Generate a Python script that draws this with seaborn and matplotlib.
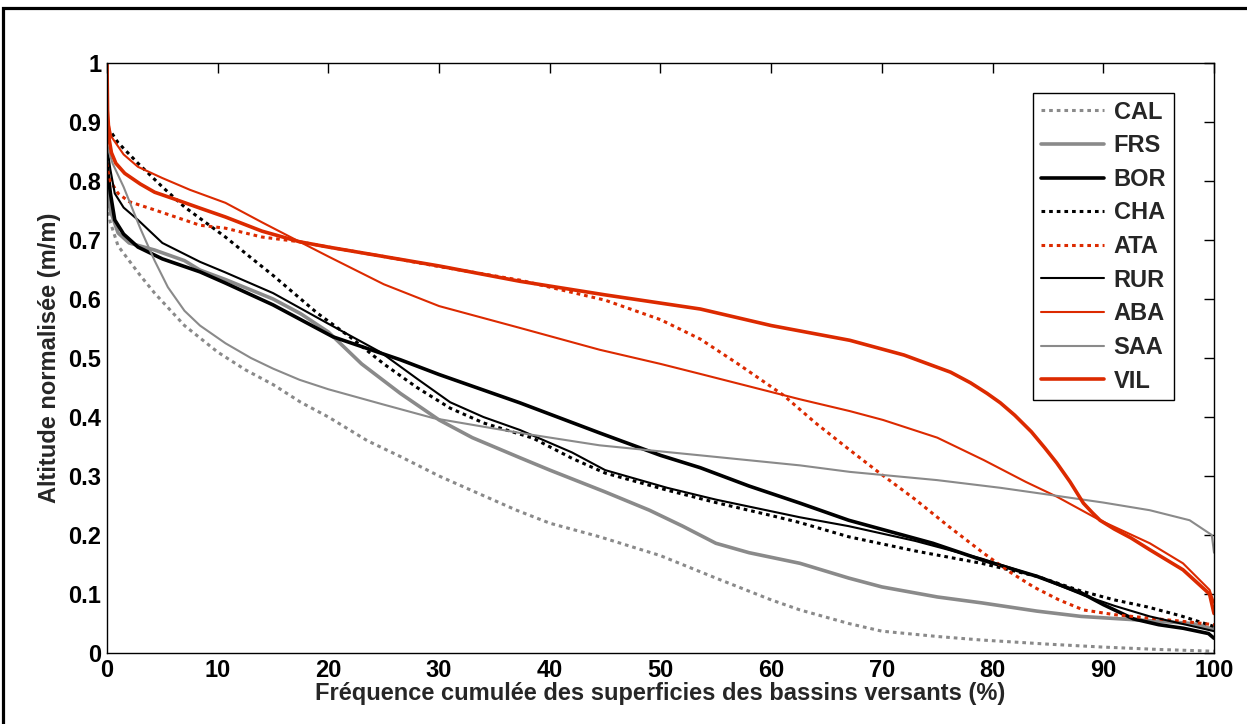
import numpy as np
import pandas as pd
import matplotlib
matplotlib.use("Agg")
import matplotlib.pyplot as plt
import seaborn as sns
from matplotlib.patches import Rectangle

sns.set_theme(style="white")
plt.rcParams['font.family'] = ['Liberation Sans', 'DejaVu Sans']
plt.rcParams['font.weight'] = 'bold'

# ---------------- data ----------------
CAL_x = [0, 0.3, 1, 2, 3, 4.3, 7, 10, 12.5, 15, 17.5, 20, 23.5, 26.5, 30, 33, 37, 40, 44.5, 50, 55, 60, 62.6, 67, 70, 75, 79, 85, 90, 95, 100]
CAL_y = [0.76, 0.73, 0.69, 0.665, 0.64, 0.61, 0.555, 0.51, 0.48, 0.455, 0.425, 0.40, 0.36, 0.333, 0.30, 0.275, 0.242, 0.22, 0.197, 0.165, 0.127, 0.09, 0.073, 0.05, 0.037, 0.028, 0.022, 0.015, 0.01, 0.006, 0.003]

FRS_x = [0, 0.3, 1, 2, 4.3, 7, 8.4, 10.7, 15, 17.5, 20, 23, 26.5, 30, 33, 37.3, 40, 45, 49, 52, 55, 58, 62.6, 67, 70, 75, 79, 84, 88, 94, 98, 100]
FRS_y = [0.80, 0.75, 0.712, 0.695, 0.683, 0.665, 0.649, 0.633, 0.60, 0.575, 0.544, 0.49, 0.44, 0.395, 0.365, 0.331, 0.31, 0.273, 0.242, 0.215, 0.186, 0.170, 0.152, 0.127, 0.112, 0.095, 0.085, 0.071, 0.062, 0.055, 0.05, 0.04]

BOR_x = [0, 0.3, 0.7, 1.5, 2.8, 5, 8.4, 10.7, 15, 20.4, 26.5, 30, 37.3, 44.5, 50, 53.6, 58, 62.6, 67, 74.6, 79, 84, 88, 90, 92.7, 95, 97.2, 99.5, 100]
BOR_y = [0.83, 0.78, 0.734, 0.71, 0.688, 0.668, 0.646, 0.627, 0.59, 0.536, 0.497, 0.472, 0.424, 0.373, 0.335, 0.314, 0.283, 0.254, 0.225, 0.186, 0.158, 0.13, 0.102, 0.082, 0.058, 0.048, 0.042, 0.033, 0.025]

CHA_x = [0, 0.3, 1, 2.8, 5, 7, 10.7, 13, 15, 19, 22, 25, 28, 31, 34, 38.5, 42, 45, 50.6, 55, 60, 62.6, 67, 73, 79, 84, 88, 91, 94, 97, 100]
CHA_y = [0.89, 0.885, 0.865, 0.83, 0.79, 0.756, 0.705, 0.67, 0.64, 0.576, 0.535, 0.49, 0.45, 0.415, 0.39, 0.364, 0.33, 0.305, 0.276, 0.255, 0.233, 0.221, 0.197, 0.173, 0.152, 0.13, 0.105, 0.09, 0.078, 0.063, 0.045]

ATA_x = [0, 0.3, 1, 2, 4.3, 8.4, 10.7, 14, 17.4, 20, 25, 30, 37.3, 40, 45, 50, 53.6, 57, 61.1, 64, 67.1, 69.8, 73.1, 76, 79.2, 81.5, 83.7, 86, 88.2, 91, 94.2, 97, 100]
ATA_y = [0.83, 0.80, 0.779, 0.765, 0.751, 0.725, 0.72, 0.705, 0.697, 0.688, 0.672, 0.655, 0.632, 0.62, 0.598, 0.565, 0.532, 0.49, 0.437, 0.39, 0.344, 0.305, 0.259, 0.215, 0.169, 0.138, 0.112, 0.09, 0.073, 0.065, 0.059, 0.054, 0.048]

RUR_x = [0, 0.3, 0.7, 1.5, 2.8, 5, 8.4, 10.7, 15, 20, 24.7, 28, 31, 34, 37.3, 42, 45, 50.6, 55, 62.6, 67, 73, 79, 84, 88.2, 91, 94.2, 97, 100]
RUR_y = [0.86, 0.82, 0.779, 0.755, 0.734, 0.695, 0.663, 0.645, 0.61, 0.558, 0.51, 0.465, 0.425, 0.40, 0.378, 0.34, 0.31, 0.28, 0.26, 0.23, 0.215, 0.19, 0.16, 0.13, 0.098, 0.08, 0.062, 0.05, 0.037]

ABA_x = [0, 0.4, 1.5, 2.8, 5, 7.5, 10.7, 14, 17.4, 20, 25, 30, 37.3, 44.5, 50, 53.6, 62.6, 67.1, 70.1, 75, 79.2, 83, 85.8, 89.7, 94.2, 97.2, 99.6, 100]
ABA_y = [0.91, 0.875, 0.845, 0.824, 0.805, 0.785, 0.763, 0.73, 0.697, 0.672, 0.625, 0.588, 0.551, 0.514, 0.49, 0.473, 0.43, 0.41, 0.395, 0.365, 0.327, 0.29, 0.265, 0.225, 0.186, 0.152, 0.107, 0.085]

SAA_x = [0, 0.5, 1.5, 3, 4.3, 5.5, 7, 8.4, 10.7, 13, 15, 17.4, 20, 25, 29.5, 37.3, 44.5, 53.6, 62.6, 67.1, 75, 80.7, 85.2, 90, 94.2, 97.8, 99, 99.8, 100]
SAA_y = [0.86, 0.83, 0.79, 0.72, 0.665, 0.62, 0.58, 0.555, 0.525, 0.50, 0.482, 0.463, 0.447, 0.421, 0.398, 0.373, 0.352, 0.335, 0.318, 0.307, 0.293, 0.28, 0.268, 0.255, 0.242, 0.225, 0.21, 0.20, 0.17]

VIL_x = [0, 0.05, 0.2, 0.4, 0.8, 1.6, 3, 4.3, 6, 8.4, 10.7, 14, 17.4, 20, 25, 30, 37.3, 45, 53.6, 60, 67.1, 72, 76.2, 78, 79.5, 80.7, 82, 83.5, 84.7, 85.8, 87, 88.2, 89, 89.7, 91, 92.5, 94.2, 97.2, 99.6, 100]
VIL_y = [1.0, 0.92, 0.87, 0.848, 0.83, 0.813, 0.795, 0.781, 0.77, 0.754, 0.739, 0.715, 0.697, 0.688, 0.672, 0.656, 0.63, 0.607, 0.583, 0.555, 0.53, 0.505, 0.476, 0.458, 0.44, 0.424, 0.403, 0.375, 0.348, 0.322, 0.29, 0.254, 0.238, 0.225, 0.21, 0.195, 0.175, 0.141, 0.10, 0.067]

names = ["CAL", "FRS", "BOR", "CHA", "ATA", "RUR", "ABA", "SAA", "VIL"]
series = {"CAL": (CAL_x, CAL_y), "FRS": (FRS_x, FRS_y), "BOR": (BOR_x, BOR_y),
          "CHA": (CHA_x, CHA_y), "ATA": (ATA_x, ATA_y), "RUR": (RUR_x, RUR_y),
          "ABA": (ABA_x, ABA_y), "SAA": (SAA_x, SAA_y), "VIL": (VIL_x, VIL_y)}

x_ticks = [0, 10, 20, 30, 40, 50, 60, 70, 80, 90, 100]
y_ticks = [0, 0.1, 0.2, 0.3, 0.4, 0.5, 0.6, 0.7, 0.8, 0.9, 1]
y_tick_labels = ["0", "0.1", "0.2", "0.3", "0.4", "0.5", "0.6", "0.7", "0.8", "0.9", "1"]

# ---------------- styles ----------------
RED = "#dc2a00"
GREY = "#8a8a8a"
DOT = (0, (1.2, 1.3))
styles = {
    "CAL": dict(color=GREY, lw=2.2, ls=DOT),
    "FRS": dict(color=GREY, lw=2.6, ls="-"),
    "BOR": dict(color="black", lw=2.6, ls="-"),
    "CHA": dict(color="black", lw=2.2, ls=DOT),
    "ATA": dict(color=RED, lw=2.2, ls=DOT),
    "RUR": dict(color="black", lw=1.5, ls="-"),
    "ABA": dict(color=RED, lw=1.5, ls="-"),
    "SAA": dict(color=GREY, lw=1.5, ls="-"),
    "VIL": dict(color=RED, lw=2.6, ls="-"),
}

W, H = 1247, 724
FS = 17
fig = plt.figure(figsize=(W / 100, H / 100), dpi=100)
ax = fig.add_axes([107 / W, 1 - 653 / H, (1214 - 107) / W, (653 - 63) / H])

for n in names:
    x, y = series[n]
    df = pd.DataFrame({"x": x, "y": y})
    st = styles[n]
    sns.lineplot(data=df, x="x", y="y", ax=ax, estimator=None, sort=False,
                 color=st["color"], linewidth=st["lw"], linestyle=st["ls"], label=n)

ax.set_xlim(0, 100)
ax.set_ylim(0, 1)
ax.set_xticks(x_ticks)
ax.set_xticklabels([str(v) for v in x_ticks])
ax.set_yticks(y_ticks)
ax.set_yticklabels(y_tick_labels)
ax.tick_params(direction="in", length=7, width=1, colors="black",
               top=True, right=True, labelsize=FS, pad=4)
for lab in ax.get_xticklabels() + ax.get_yticklabels():
    lab.set_fontweight("bold")
for s in ax.spines.values():
    s.set_color("black")
    s.set_linewidth(1.0)

ax.set_xlabel("Fréquence cumulée des superficies des bassins versants (%)",
              fontsize=FS, fontweight="bold", labelpad=0)
ax.set_ylabel("Altitude normalisée (m/m)", fontsize=FS, fontweight="bold", labelpad=5)

leg = ax.legend(loc="upper left", bbox_to_anchor=((1033 - 107) / 1107, (653 - 93) / 590),
                borderaxespad=0, frameon=True, fancybox=False, fontsize=17,
                handlelength=2.7, handletextpad=0.4, labelspacing=0.45,
                borderpad=0.32)
frame = leg.get_frame()
frame.set_edgecolor("black")
frame.set_linewidth(1.0)
frame.set_alpha(1)
for t in leg.get_texts():
    t.set_fontweight("bold")

# outer figure border
fig.patches.append(Rectangle((3 / W, -0.2), 2.0, (H - 8) / H + 0.2, transform=fig.transFigure,
                             fill=False, edgecolor="black", linewidth=2.3, clip_on=False))

fig.savefig("out.png", dpi=100)
